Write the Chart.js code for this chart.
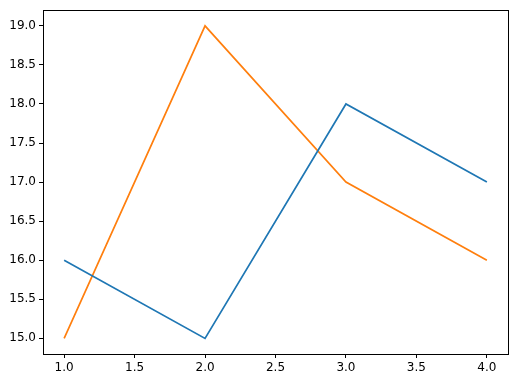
<!DOCTYPE html>
<html><head><meta charset="utf-8">
<script src="https://cdn.jsdelivr.net/npm/chart.js@4/dist/chart.umd.min.js"></script>
<style>html,body{margin:0;padding:0;background:#fff}#wrap{width:516px;height:381px}</style>
</head><body><div id="wrap"><canvas id="c" width="516" height="381"></canvas></div>
<script>
const xValues = [1, 2, 3, 4];
const seriesA = [16, 15, 18, 17];
const seriesB = [15, 19, 17, 16];
const xTicks = [1.0, 1.5, 2.0, 2.5, 3.0, 3.5, 4.0];
const yTicks = [15.0, 15.5, 16.0, 16.5, 17.0, 17.5, 18.0, 18.5, 19.0];

const frame = {
  id: 'frame',
  afterDraw(chart) {
    const a = chart.chartArea, ctx = chart.ctx;
    ctx.save();
    ctx.strokeStyle = '#000';
    ctx.lineWidth = 1;
    ctx.strokeRect(Math.round(a.left) + 0.5, Math.round(a.top) + 0.5, Math.round(a.right - a.left), Math.round(a.bottom - a.top));
    ctx.restore();
  }
};

const font = { family: 'DejaVu Sans', size: 12 };
new Chart(document.getElementById('c'), {
  type: 'line',
  data: {
    datasets: [
      { data: xValues.map((x, i) => ({ x, y: seriesA[i] })), borderColor: '#1f77b4', borderWidth: 1.7, pointRadius: 0, tension: 0, fill: false },
      { data: xValues.map((x, i) => ({ x, y: seriesB[i] })), borderColor: '#ff7f0e', borderWidth: 1.7, pointRadius: 0, tension: 0, fill: false }
    ]
  },
  options: {
    responsive: false,
    animation: false,
    layout: { autoPadding: false, padding: { left: 0, top: 8, right: 8, bottom: 0 } },
    plugins: { legend: { display: false }, tooltip: { enabled: false } },
    scales: {
      x: {
        type: 'linear', min: 0.85, max: 4.15,
        afterBuildTicks: s => { s.ticks = xTicks.map(v => ({ value: v })); },
        afterFit: s => { s.height = 27; },
        grid: { drawOnChartArea: false, drawTicks: true, tickLength: 4, color: '#000' },
        border: { display: true, color: '#000' },
        ticks: { font, color: '#000', padding: 3, maxRotation: 0, callback: v => v.toFixed(1) }
      },
      y: {
        type: 'linear', min: 14.8, max: 19.2,
        afterBuildTicks: s => { s.ticks = yTicks.map(v => ({ value: v })); },
        afterFit: s => { s.width = 43; },
        grid: { drawOnChartArea: false, drawTicks: true, tickLength: 4, color: '#000' },
        border: { display: true, color: '#000' },
        ticks: { font, color: '#000', padding: 3, callback: v => v.toFixed(1) }
      }
    }
  },
  plugins: [frame]
});
</script></body></html>
